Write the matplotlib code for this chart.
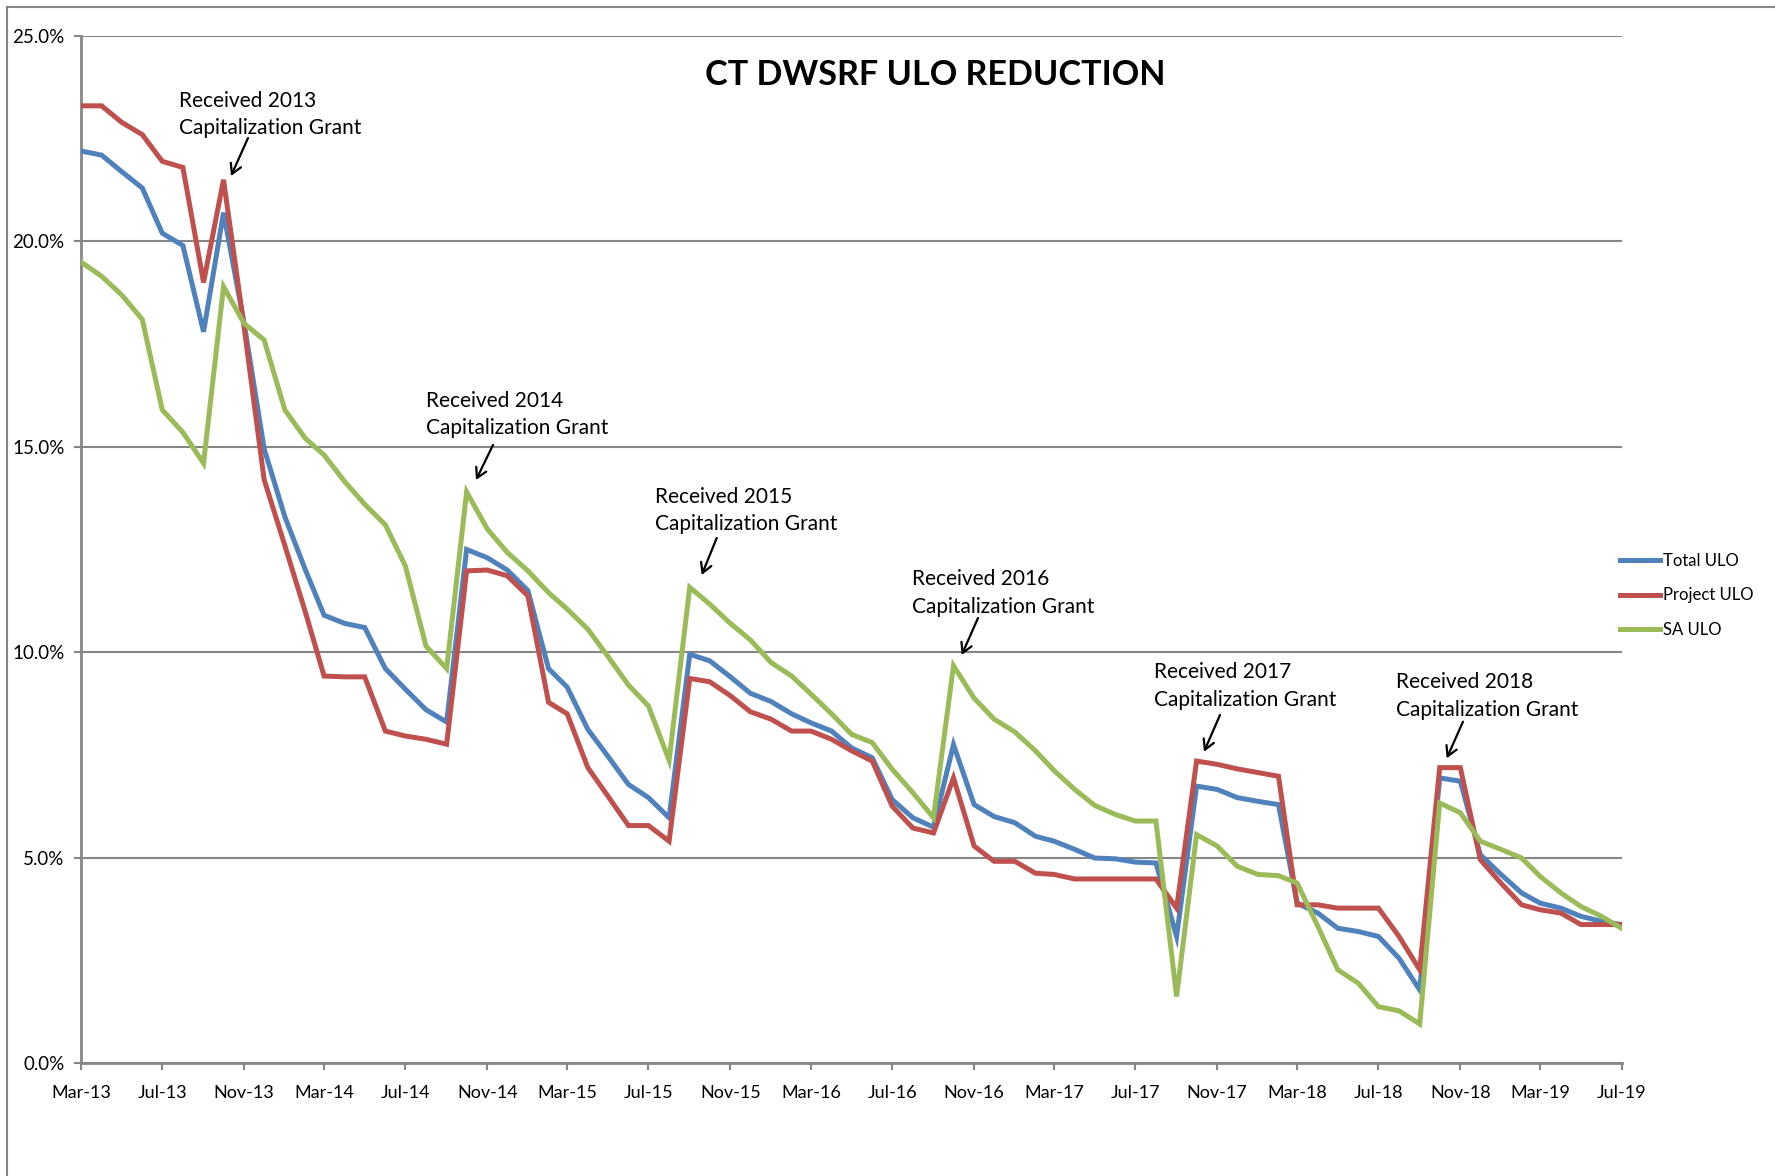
import matplotlib
matplotlib.use("Agg")
import matplotlib.pyplot as plt
import matplotlib.dates as mdates
from matplotlib.ticker import PercentFormatter, MultipleLocator
from matplotlib.lines import Line2D
import pandas as pd

# ---------------- data ----------------
start_month = "2013-03-01"
series_names = ["Total ULO", "Project ULO", "SA ULO"]

total_ulo = [22.2, 22.1, 21.7, 21.3, 20.2, 19.9, 17.8, 20.7, 18.0, 14.95,
             13.3, 12.0, 10.9, 10.7, 10.6, 9.6, 9.1, 8.6, 8.3, 12.5,
             12.3, 12.0, 11.5, 9.6, 9.15, 8.12, 7.47, 6.78, 6.46, 5.97,
             9.95, 9.79, 9.4, 9.0, 8.8, 8.5, 8.28, 8.08, 7.67, 7.43,
             6.41, 5.97, 5.74, 7.75, 6.29, 6.0, 5.85, 5.52, 5.4, 5.2,
             4.99, 4.97, 4.89, 4.87, 3.08, 6.74, 6.66, 6.46, 6.37, 6.29,
             3.89, 3.65, 3.28, 3.2, 3.08, 2.55, 1.78, 6.94, 6.86, 5.07,
             4.59, 4.14, 3.89, 3.77, 3.57, 3.45, 3.37]

project_ulo = [23.3, 23.3, 22.9, 22.6, 21.95, 21.8, 19.0, 21.5, 17.9, 14.2,
               12.6, 10.97, 9.42, 9.4, 9.4, 8.08, 7.96, 7.88, 7.76, 11.98,
               12.0, 11.86, 11.37, 8.78, 8.5, 7.19, 6.5, 5.78, 5.78, 5.4,
               9.36, 9.28, 8.94, 8.55, 8.37, 8.08, 8.08, 7.88, 7.6, 7.35,
               6.25, 5.72, 5.6, 6.94, 5.28, 4.91, 4.91, 4.62, 4.59, 4.48,
               4.48, 4.48, 4.48, 4.48, 3.77, 7.35, 7.27, 7.16, 7.07, 6.98,
               3.85, 3.85, 3.77, 3.77, 3.77, 3.08, 2.27, 7.19, 7.19, 4.95,
               4.38, 3.85, 3.73, 3.65, 3.37, 3.37, 3.37]

sa_ulo = [19.5, 19.15, 18.7, 18.1, 15.9, 15.35, 14.6, 18.9, 18.0, 17.6,
          15.9, 15.2, 14.8, 14.15, 13.6, 13.1, 12.1, 10.15, 9.6, 13.9,
          13.0, 12.43, 11.98, 11.45, 11.05, 10.56, 9.9, 9.2, 8.69, 7.37,
          11.58, 11.17, 10.7, 10.3, 9.75, 9.42, 8.98, 8.5, 8.0, 7.8,
          7.15, 6.58, 5.97, 9.67, 8.88, 8.37, 8.06, 7.6, 7.12, 6.66,
          6.27, 6.05, 5.89, 5.89, 1.62, 5.56, 5.28, 4.79, 4.59, 4.56,
          4.38, 3.33, 2.27, 1.94, 1.37, 1.27, 0.95, 6.33, 6.09, 5.4,
          5.2, 4.99, 4.54, 4.14, 3.81, 3.57, 3.28]

annotation_texts = ["Received 2013\nCapitalization Grant",
                    "Received 2014\nCapitalization Grant",
                    "Received 2015\nCapitalization Grant",
                    "Received 2016\nCapitalization Grant",
                    "Received 2017\nCapitalization Grant",
                    "Received 2018\nCapitalization Grant"]

title_text = "CT DWSRF ULO REDUCTION"

# ---------------- styling ----------------
W, H = 1775, 1176
DPI = 100
FONT = ["Lato", "DejaVu Sans"]
plt.rcParams["font.family"] = FONT

colors = ["#4F81BD", "#C0504D", "#9BBB59"]
gray = "#868686"

dates = pd.date_range(start_month, periods=len(total_ulo), freq="MS")

fig = plt.figure(figsize=(W / DPI, H / DPI), dpi=DPI)
ax_left, ax_right, ax_top, ax_bottom = 81, 1621.5, 36, 1063
ax = fig.add_axes([ax_left / W, 1 - ax_bottom / H,
                   (ax_right - ax_left) / W, (ax_bottom - ax_top) / H])

for vals, name, col in zip([total_ulo, project_ulo, sa_ulo], series_names, colors):
    ax.plot(dates, vals, color=col, lw=3.6, label=name,
            solid_joinstyle="miter", zorder=3)

ax.set_xlim(dates[0], dates[-1])
ax.set_ylim(0, 25)
ax.yaxis.set_major_locator(MultipleLocator(5))
ax.yaxis.set_major_formatter(PercentFormatter(xmax=100, decimals=1))
ax.xaxis.set_major_locator(mdates.MonthLocator(bymonth=[3, 7, 11]))
ax.xaxis.set_major_formatter(mdates.DateFormatter("%b-%y"))

ax.grid(axis="y", color=gray, lw=1.5, zorder=0)
ax.set_axisbelow(True)
for s in ["top", "right"]:
    ax.spines[s].set_visible(False)
for s in ["left", "bottom"]:
    ax.spines[s].set_color(gray)
    ax.spines[s].set_linewidth(2)
ax.tick_params(axis="both", colors=gray, width=1.5, length=5,
               labelcolor="black")
ax.tick_params(axis="x", labelsize=13, pad=11)
ax.tick_params(axis="y", labelsize=13.5, pad=7)

# title
fig.text(935 / W, 1 - 75 / H, title_text, ha="center", va="center",
         fontsize=24.6, fontweight="bold", color="black")

# annotations: text (left, center-y) and arrow (start -> end) in figure pixels
ann_text_pos = [(179, 114.5), (425.6, 414.5), (655, 510.5), (912, 593),
                (1153.5, 686), (1395.8, 696)]
ann_arrows = [((248, 138), (231, 176)), ((493, 445), (476, 480)),
              ((716.7, 538), (701.7, 575)), ((978, 618), (961.7, 655)),
              ((1220, 715), (1204, 751.7)), ((1463, 721.7), (1446.7, 758.3))]
for txt, (tx, ty), (a0, a1) in zip(annotation_texts, ann_text_pos, ann_arrows):
    fig.text(tx / W, 1 - ty / H, txt, ha="left", va="center",
             fontsize=15, linespacing=1.45, color="black")
    ax.annotate("", xy=(a1[0], H - a1[1]), xycoords="figure pixels",
                xytext=(a0[0], H - a0[1]), textcoords="figure pixels",
                arrowprops=dict(arrowstyle="->,head_length=0.7,head_width=0.4",
                                color="black", lw=1.6, shrinkA=0, shrinkB=0))

# legend
leg = ax.legend(loc="upper left", frameon=False, fontsize=12,
                handlelength=2.4, handletextpad=0.2, labelspacing=1.1,
                borderpad=0, borderaxespad=0)
leg.set_bbox_to_anchor((1620 / W, 1 - 553 / H), transform=fig.transFigure)
for lh in leg.get_lines():
    lh.set_linewidth(3.6)

# outer chart border (top and left visible)
fig.add_artist(Line2D([7 / W, 1.05], [1 - 7 / H, 1 - 7 / H],
                      transform=fig.transFigure, color=gray, lw=1.5))
fig.add_artist(Line2D([7 / W, 7 / W], [1 - 7 / H, -0.05],
                      transform=fig.transFigure, color=gray, lw=1.5))

fig.savefig("out.png", dpi=DPI)
